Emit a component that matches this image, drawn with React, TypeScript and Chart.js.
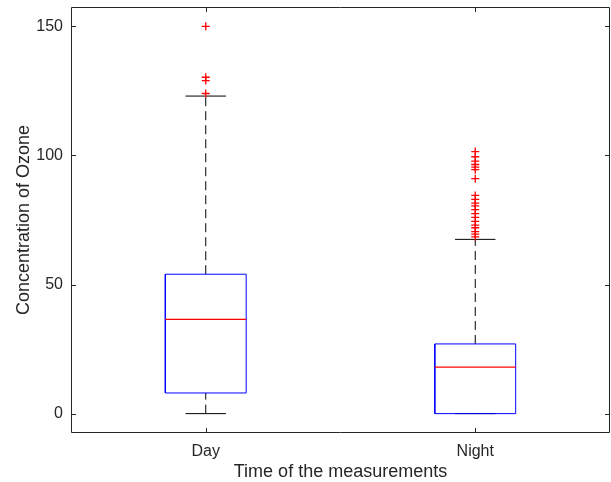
import React, { useEffect, useRef } from 'react';
import { Chart, registerables } from 'chart.js';

Chart.register(...registerables);

// ---- data ----
const categories = ['Day', 'Night'];
const positions = [1, 2];
const lowerWhisker = [0, 0];
const q1 = [8, 0];
const medians = [36.5, 18];
const q3 = [54, 27];
const upperWhisker = [123, 67.5];
const dayOutliers = [124, 129, 130.3, 150];
const nightOutliers = [
  68.5, 69.5, 70.5, 72, 73, 74.5, 76, 77.5, 79, 80.5, 81.5, 83, 84.5, 91, 94.5, 95.5, 96.5, 97.8,
  99.5, 101.5,
];
const outliers = [dayOutliers, nightOutliers];
const yTicks = [0, 50, 100, 150];

// ---- style ----
const BOX_HALF = 0.15;
const CAP_HALF = 0.075;
const AXIS_COLOR = '#262626';
const FONT = '"Liberation Sans", Arial, Helvetica, sans-serif';

const zeroPad = (scale: any) => {
  scale.paddingTop = 0;
  scale.paddingBottom = 0;
  scale.paddingLeft = 0;
  scale.paddingRight = 0;
};

const framePlugin = {
  id: 'frameTicks',
  afterDraw(chart: any) {
    const { ctx, chartArea, scales } = chart;
    const { left, right, top, bottom } = chartArea;
    ctx.save();
    ctx.strokeStyle = AXIS_COLOR;
    ctx.lineWidth = 1;
    ctx.beginPath();
    ctx.rect(left + 0.5, top + 0.5, right - left - 1, bottom - top - 1);
    ctx.stroke();
    const tl = 5;
    ctx.beginPath();
    for (const v of yTicks) {
      const y = Math.round(scales.y.getPixelForValue(v)) + 0.5;
      ctx.moveTo(left, y);
      ctx.lineTo(left + tl, y);
      ctx.moveTo(right, y);
      ctx.lineTo(right - tl, y);
    }
    for (const p of positions) {
      const x = Math.round(scales.x.getPixelForValue(p)) + 0.5;
      ctx.moveTo(x, bottom);
      ctx.lineTo(x, bottom - tl);
      ctx.moveTo(x, top);
      ctx.lineTo(x, top + tl);
    }
    ctx.stroke();
    ctx.restore();
  },
};

export default function App() {
  const ref = useRef<HTMLCanvasElement | null>(null);

  useEffect(() => {
    if (!ref.current) return;
    const datasets: any[] = [];
    positions.forEach((p, i) => {
      const lineBase = { showLine: true, pointRadius: 0, fill: false, borderWidth: 1, tension: 0 };
      datasets.push({
        ...lineBase,
        label: categories[i] + ' upper whisker',
        data: [
          { x: p, y: q3[i] },
          { x: p, y: upperWhisker[i] },
        ],
        borderColor: '#000000',
        borderDash: [9, 5],
        order: 5,
      });
      datasets.push({
        ...lineBase,
        label: categories[i] + ' lower whisker',
        data: [
          { x: p, y: lowerWhisker[i] },
          { x: p, y: q1[i] },
        ],
        borderColor: '#000000',
        borderDash: [9, 5],
        order: 5,
      });
      datasets.push({
        ...lineBase,
        label: categories[i] + ' upper cap',
        data: [
          { x: p - CAP_HALF, y: upperWhisker[i] },
          { x: p + CAP_HALF, y: upperWhisker[i] },
        ],
        borderColor: '#000000',
        order: 4,
      });
      datasets.push({
        ...lineBase,
        label: categories[i] + ' lower cap',
        data: [
          { x: p - CAP_HALF, y: lowerWhisker[i] },
          { x: p + CAP_HALF, y: lowerWhisker[i] },
        ],
        borderColor: '#000000',
        order: 4,
      });
      datasets.push({
        ...lineBase,
        label: categories[i] + ' box',
        data: [
          { x: p - BOX_HALF, y: q1[i] },
          { x: p + BOX_HALF, y: q1[i] },
          { x: p + BOX_HALF, y: q3[i] },
          { x: p - BOX_HALF, y: q3[i] },
          { x: p - BOX_HALF, y: q1[i] },
        ],
        borderColor: '#0000FF',
        order: 3,
      });
      datasets.push({
        ...lineBase,
        label: categories[i] + ' median',
        data: [
          { x: p - BOX_HALF, y: medians[i] },
          { x: p + BOX_HALF, y: medians[i] },
        ],
        borderColor: '#FF0000',
        borderWidth: 1.3,
        order: 2,
      });
      datasets.push({
        label: categories[i] + ' outliers',
        data: outliers[i].map((v) => ({ x: p, y: v })),
        showLine: false,
        pointStyle: 'cross',
        pointRadius: 4,
        pointBorderWidth: 1.3,
        borderColor: '#FF0000',
        backgroundColor: '#FF0000',
        order: 1,
      });
    });

    const chart = new Chart(ref.current, {
      type: 'scatter',
      data: { datasets },
      options: {
        responsive: false,
        animation: false,
        events: [],
        layout: { autoPadding: false, padding: { top: 7, right: 1, left: 0, bottom: 0 } },
        plugins: { legend: { display: false }, tooltip: { enabled: false } },
        scales: {
          x: {
            type: 'linear',
            min: 0.5,
            max: 2.5,
            grid: { display: false, drawTicks: false },
            border: { display: false },
            afterBuildTicks: (scale: any) => {
              scale.ticks = positions.map((v) => ({ value: v }));
            },
            afterFit: (scale: any) => {
              scale.height = 49;
              zeroPad(scale);
            },
            ticks: {
              padding: 9,
              color: AXIS_COLOR,
              font: { family: FONT, size: 16 },
              maxRotation: 0,
              callback: (v: any) => {
                const idx = positions.indexOf(Number(v));
                return idx >= 0 ? categories[idx] : '';
              },
            },
            title: {
              display: true,
              text: 'Time of the measurements',
              color: AXIS_COLOR,
              font: { family: FONT, size: 18 },
              padding: { top: 0, bottom: -1 },
            },
          },
          y: {
            type: 'linear',
            min: -7.5,
            max: 157.5,
            grid: { display: false, drawTicks: false },
            border: { display: false },
            afterBuildTicks: (scale: any) => {
              scale.ticks = yTicks.map((v) => ({ value: v }));
            },
            afterFit: (scale: any) => {
              scale.width = 71;
              zeroPad(scale);
            },
            ticks: {
              padding: 8,
              color: AXIS_COLOR,
              font: { family: FONT, size: 16 },
            },
            title: {
              display: true,
              text: 'Concentration of Ozone',
              color: AXIS_COLOR,
              font: { family: FONT, size: 18 },
              padding: { top: 13, bottom: 0 },
            },
          },
        },
      },
      plugins: [framePlugin],
    });
    return () => chart.destroy();
  }, []);

  return (
    <div style={{ position: 'fixed', left: 0, top: 0, width: 611, height: 482, background: '#ffffff' }}>
      <canvas ref={ref} width={611} height={482} style={{ display: 'block' }} />
    </div>
  );
}
